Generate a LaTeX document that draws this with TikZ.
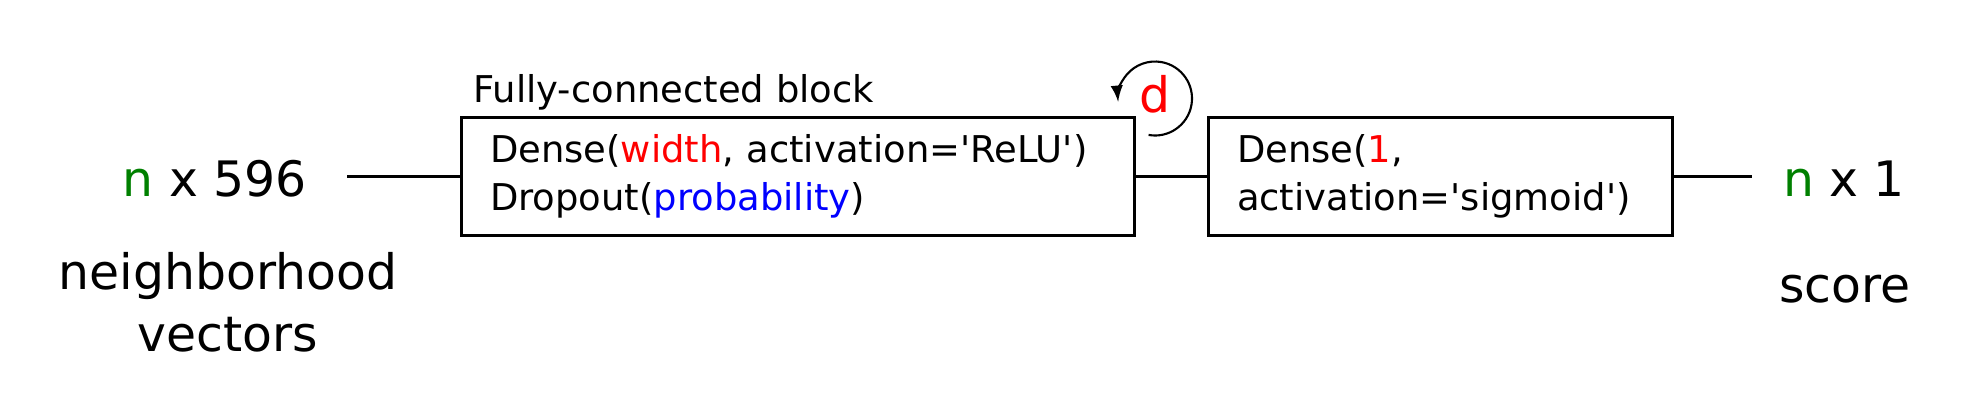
\documentclass[tikz,border=0pt]{standalone}
\usepackage{fontspec}
\setmainfont[Ligatures=TeXOff]{DejaVu Sans}
\usepackage{xcolor}
\usepackage{tikz}
\usetikzlibrary{arrows,positioning}
\definecolor{NNred}{RGB}{255,0,0}
\definecolor{NNblue}{RGB}{0,0,255}
\definecolor{NNgreen}{RGB}{0,128,0}
\newcommand{\boxfont}{\fontsize{10.5pt}{13.66pt}\selectfont}
\newcommand{\bigfont}{\fontsize{13.9pt}{17.6pt}\selectfont}
\tikzstyle{lbox}   = [rectangle, draw, align=left, minimum height=1.18cm,
                      inner xsep=0.29cm, inner ysep=0pt, font=\boxfont]
\tikzstyle{Bhid}   = [lbox, text width=6.15cm]
\tikzstyle{Bsig}   = [lbox, text width=4.06cm]
\tikzstyle{dimlbl} = [inner sep=0pt, anchor=base, font=\bigfont]
\tikzstyle{desc}   = [inner sep=0pt, align=center, font=\bigfont]

\begin{document}
\begin{tikzpicture}[>=latex, line width=0.85pt]
  \useasboundingbox (0,0) rectangle (19.69,-4.12);

  \node[Bhid] (fc) at (7.975,-1.76)
    {Dense(\textcolor{NNred}{width}, activation='ReLU')\\Dropout(\textcolor{NNblue}{probability})};
  \node[Bsig, right=0.71cm of fc] (out)
    {Dense(\textcolor{NNred}{1},\\activation='sigmoid')};
  \node[inner sep=0pt, anchor=base west, font=\boxfont] (fclbl) at (4.72,-1.02) {Fully-connected block};

  % input / output
  \node[dimlbl] (inDim) at (2.15,-1.96) {\textcolor{NNgreen}{n} x 596};
  \node[desc] (inTxt) at (2.28,-3.025) {neighborhood\\vectors};
  \node[dimlbl] (outDim) at (18.44,-1.96) {\textcolor{NNgreen}{n} x 1};
  \node[dimlbl] (outTxt) at (18.45,-3.02) {score};

  \coordinate (inL) at (3.47,-1.76);
  \coordinate (outR) at (17.52,-1.76);
  \draw (inL) -- (fc);
  \draw (fc) -- (out);
  \draw (out) -- (outR);

  % repeat d times
  \node[inner sep=0pt, anchor=base, font=\bigfont, text=NNred] (rep) at (11.55,-1.12) {d};
  \coordinate (loopc) at (11.55,-0.985);
  \draw[->, line width=0.6pt] ([shift={(-100:0.37)}]loopc) arc[start angle=-100, end angle=185, radius=0.37];

\end{tikzpicture}
\end{document}
